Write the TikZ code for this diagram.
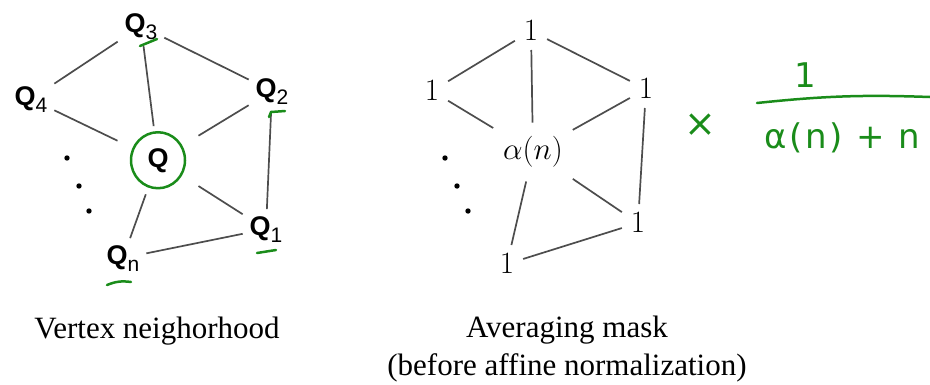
\RequirePackage{fix-cm}
\documentclass[tikz,border=0pt]{standalone}
\usepackage{fontspec}
\usepackage{xcolor}
\usepackage{tikz}
\usetikzlibrary{positioning}
\newfontfamily\qfont{Liberation Sans}
\newfontfamily\piefont{Liberation Serif}
\newfontfamily\manofont{DejaVu Sans}[LetterSpace=8]
\definecolor{gris}{HTML}{4D4D4D}
\definecolor{verdemano}{HTML}{1A8C1A}
\newcommand{\qsub}[1]{\textbf{Q}\raisebox{-7pt}{\fontsize{21}{21}\selectfont #1}}

\begin{document}
\begin{tikzpicture}[x=1pt, y=1pt,
  vq/.style={font=\qfont\fontsize{27}{27}\selectfont, inner sep=0pt, outer sep=7pt, anchor=base},
  peso/.style={font=\fontsize{31}{31}\selectfont, inner sep=0pt, outer sep=9pt},
  arista/.style={draw=gris, line width=1.7pt},
  trazo/.style={draw=verdemano, line width=2.5pt, line cap=round, line join=round},
  escrito/.style={font=\manofont\fontsize{34}{34}\selectfont, text=verdemano, inner sep=0pt},
  pie/.style={font=\piefont\fontsize{31}{38}\selectfont, inner sep=0pt, align=center}
]
\useasboundingbox (0,0) rectangle (930,-384);

% vecindad del vertice
\node[vq] (q3) at (141,-32) {\qsub{3}};
\node[vq] (q4) at (31,-105) {\qsub{4}};
\node[vq] (q2) at (272,-97) {\qsub{2}};
\node[vq, outer xsep=30pt, outer ysep=22pt] (q) at (158,-167) {\textbf{Q}};
\node[vq] (q1) at (266,-235) {\qsub{1}};
\node[vq] (qn) at (123,-264) {\qsub{n}};
\foreach \a/\b in {q3/q4,q3/q2,q3/q,q4/q,q2/q,q2/q1,q/q1,q/qn,qn/q1}
  \draw[arista] (\a) -- (\b);
\foreach \x/\y in {67/158,79/186,89/211}
  \fill (\x,-\y) circle (2.7pt);
\node[pie, anchor=base] (cap1) at (157,-338) {Vertex neighorhood};

% mascara de promedio
\node[peso] (m3) at (531,-31) {$1$};
\node[peso] (m4) at (432,-91) {$1$};
\node[peso] (m2) at (646,-89) {$1$};
\node[peso, outer xsep=10pt, outer ysep=14pt] (mc) at (533,-152) {$\alpha(n)$};
\node[peso] (m1) at (638,-223) {$1$};
\node[peso] (mn) at (507,-264) {$1$};
\foreach \a/\b in {m3/m4,m3/m2,m3/mc,m4/mc,m2/mc,m2/m1,mc/m1,mc/mn,mn/m1}
  \draw[arista] (\a) -- (\b);
\foreach \x/\y in {445/158,457/186,468/211}
  \fill (\x,-\y) circle (2.7pt);
\node[pie, anchor=north] (cap2) at (567,-316) {Averaging mask\\(before affine normalization)};

% anotaciones a mano
\draw[trazo] (q) ellipse [x radius=27, y radius=28];
\draw[trazo] ([shift={(-1,-14)}]q3.base) -- ++(17,7);
\draw[trazo] ([shift={(-3,-20)}]q2.base) -- ++(2,5) -- ++(14,1);
\draw[trazo] ([shift={(-9,-18)}]q1.base) -- ++(19,3);
\draw[trazo] ([shift={(-16,-21)}]qn.base) to[bend left=15] ++(24,3);
\node[escrito, font=\manofont\fontsize{38}{38}\selectfont] (por) at (700,-125) {×};
\node[escrito] (num) at (805,-75) {1};
\node[escrito] (den) at (842,-138) {α(n) + n};
\coordinate (bi) at (757,-103);
\coordinate (bf) at (930,-97);
\draw[trazo] (bi) to[bend left=4] (bf);
\end{tikzpicture}
\end{document}
